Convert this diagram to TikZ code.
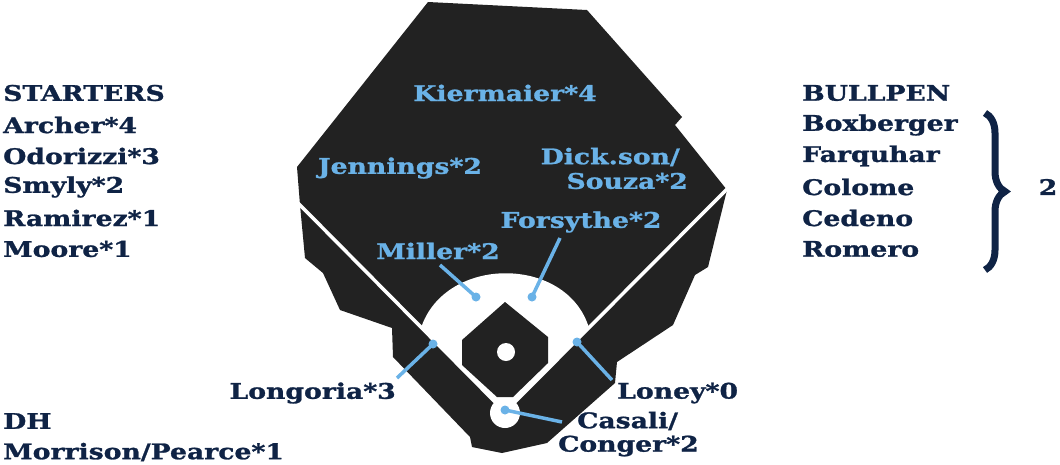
\documentclass[tikz,border=0pt]{standalone}
\usepackage{fontspec}
\setmainfont{DejaVu Serif}[FakeStretch=1.24, BoldFeatures={FakeBold=1.2}]
\usetikzlibrary{decorations.pathreplacing}
\definecolor{navy}{HTML}{0F2345}
\definecolor{field}{HTML}{222222}
\definecolor{lb}{HTML}{6AB2E7}
\tikzset{
 lab/.style={font=\fontsize{21.5}{21.5}\selectfont\bfseries, text=navy, inner sep=0pt},
 flab/.style={font=\fontsize{21.5}{21.5}\selectfont\bfseries, text=lb, inner sep=0pt},
 ptr/.style={draw=lb, line width=3.5pt},
 dot/.style={circle, fill=lb, minimum size=9pt, inner sep=0pt},
}
\begin{document}
\begin{tikzpicture}[x=1pt,y=-1pt]
\useasboundingbox (0,0) rectangle (1060,464);
% field
\fill[field] (428,2) -- (587,10) -- (682,117) -- (675,125) -- (727,190) -- (708,267) -- (695,275) -- (673,325) -- (617,362) -- (615,383) -- (547,443) -- (502,453) -- (472,447) -- (470,437) -- (393,357) -- (392,328) -- (340,310) -- (323,273) -- (305,258) -- (300,205) -- (297,167) -- cycle;
\fill[white] (505,412) -- (421,328) .. controls (445,255) and (567,255) .. (589,328) -- cycle;
\draw[white, line width=3.5pt] (505,412) -- (298,203);
\draw[white, line width=3.5pt] (505,412) -- (727,189);
\fill[field] (505,302) -- (548,337) -- (548,363) -- (513,397) -- (497,397) -- (462,365) -- (462,340) -- cycle;
\fill[white] (506,352) circle (9);
\fill[white] (505,413) circle (15);
% dots & pointers
\node[dot] (d1) at (476,297) {};
\node[dot] (d2) at (532,297) {};
\node[dot] (d3) at (433,344) {};
\node[dot] (d4) at (577,342) {};
\node[dot] (d5) at (505,410) {};
\coordinate (p1) at (440,265);
\coordinate (p2) at (560,238);
\coordinate (p3) at (397,378);
\coordinate (p4) at (612,380);
\coordinate (p5) at (562,422);
\draw[ptr] (p1) -- (d1.center);
\draw[ptr] (p2) -- (d2.center);
\draw[ptr] (p3) -- (d3.center);
\draw[ptr] (p4) -- (d4.center);
\draw[ptr] (p5) -- (d5.center);
% field labels
\node[flab] (k) at (505,93) {Kiermaier*4};
\node[flab] (j) at (400,168) {Jennings*2};
\node[flab, anchor=east] (ds) at (680,157) {Dick.son/};
\node[flab, anchor=east] (sz) at (688,181) {Souza*2};
\node[flab] (f) at (581,222) {Forsythe*2};
\node[flab] (m) at (438,251) {Miller*2};
\node[lab, anchor=east] (lo) at (396,393) {Longoria*3};
\node[lab, anchor=west] (ln) at (617,393) {Loney*0};
\node[lab, anchor=west] (cs) at (577,421) {Casali/};
\node[lab, anchor=west] (cg) at (558,446) {Conger*2};
% left column
\node[lab, anchor=west] (s0) at (3,93) {STARTERS};
\node[lab, anchor=west] (s1) at (3,125) {Archer*4};
\node[lab, anchor=west] (s2) at (3,156) {Odorizzi*3};
\node[lab, anchor=west] (s3) at (3,187) {Smyly*2};
\node[lab, anchor=west] (s4) at (3,218) {Ramirez*1};
\node[lab, anchor=west] (s5) at (3,249) {Moore*1};
\node[lab, anchor=west] (dh) at (3,421) {DH};
\node[lab, anchor=west] (mp) at (3,452) {Morrison/Pearce*1};
% right column
\node[lab, anchor=west] (b0) at (802,93) {BULLPEN};
\node[lab, anchor=west] (b1) at (802,125) {Boxberger};
\node[lab, anchor=west] (b2) at (802,156) {Farquhar};
\node[lab, anchor=west] (b3) at (802,187) {Colome};
\node[lab, anchor=west] (b4) at (802,218) {Cedeno};
\node[lab, anchor=west] (b5) at (802,249) {Romero};
\coordinate (bt) at (985,113);
\coordinate (bb) at (985,270);
\draw[navy, line width=7pt, decorate, decoration={brace, amplitude=20pt}] (bt) -- (bb);
\node[lab] (two) at (1048,187) {2};
\end{tikzpicture}
\end{document}
